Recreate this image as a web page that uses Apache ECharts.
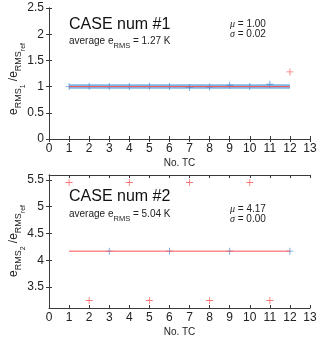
<!DOCTYPE html>
<html>
<head>
<meta charset="utf-8">
<script src="https://cdn.jsdelivr.net/npm/echarts@6/dist/echarts.min.js"></script>
<style>
  html, body { margin: 0; padding: 0; background: #fff; }
  #chart { width: 320px; height: 342px; }
</style>
</head>
<body>
<div id="chart"></div>
<script>
// data
var xTicks = [0, 1, 2, 3, 4, 5, 6, 7, 8, 9, 10, 11, 12, 13];
var yTicks1 = [0, 0.5, 1, 1.5, 2, 2.5];
var yTicks2 = [3.5, 4, 4.5, 5, 5.5];

// case 1
var tc1 = [1, 2, 3, 4, 5, 6, 7, 8, 9, 10, 11];
var ratio1 = [1.0, 1.005, 1.0, 1.0, 1.005, 1.0, 0.985, 0.99, 1.025, 1.0, 1.045];
var tcOut1 = [12];
var ratioOut1 = [1.28];

// case 2
var tc2 = [3, 6, 9, 12];
var ratio2 = [4.17, 4.17, 4.17, 4.17];
var tcOut2 = [1, 2, 4, 5, 7, 8, 10, 11];
var ratioOut2 = [5.45, 3.25, 5.45, 3.25, 5.45, 3.25, 5.45, 3.25];

// stats per case
var caseNames = ['CASE num #1', 'CASE num #2'];
var avgE = ['1.27', '5.04'];
var mu = [1.00, 4.17];
var sigma = [0.02, 0.00];
var lineRange = [1, 12];

var BLUE = '#3f8ad2';
var BAND = '#7fb6e4';
var RED = '#ff5252';
var AXC = '#3a3a3a';
var FONT = 'Liberation Sans, Arial, sans-serif';

var plus = 'path://M4.4,0h1.2v4.4h4.4v1.2h-4.4v4.4h-1.2v-4.4h-4.4v-1.2h4.4z';

function zip(xs, ys) {
    return xs.map(function (x, i) { return [x, ys[i]]; });
}

function xAx(grid, pos, labels) {
    return {
        type: 'value', gridIndex: grid, position: pos,
        min: 0, max: 13,
        axisLine: { show: true, lineStyle: { color: AXC, width: 1 } },
        axisTick: { show: true, inside: true, length: 3, customValues: xTicks, lineStyle: { color: AXC } },
        axisLabel: { show: labels, customValues: xTicks, fontFamily: FONT, fontSize: 12, color: '#222', margin: 4 },
        splitLine: { show: false },
        name: labels ? 'No. TC' : '',
        nameLocation: 'middle', nameGap: 19,
        nameTextStyle: { fontFamily: FONT, fontSize: 10, color: '#222' }
    };
}

function yAx(grid, pos, labels, min, max, ticks) {
    return {
        type: 'value', gridIndex: grid, position: pos,
        min: min, max: max,
        axisLine: { show: true, lineStyle: { color: AXC, width: 1 } },
        axisTick: { show: true, inside: true, length: 3, customValues: ticks, lineStyle: { color: AXC } },
        axisLabel: { show: labels, customValues: ticks, fontFamily: FONT, fontSize: 12, color: '#222', margin: 5 },
        splitLine: { show: false }
    };
}

function meanLine(i, xi, yi) {
    var m = mu[i];
    return [
        { type: 'line', xAxisIndex: xi, yAxisIndex: yi, symbol: 'none', silent: true,
          data: [[lineRange[0], m], [lineRange[1], m]],
          lineStyle: { color: BAND, width: sigma[i] > 0 ? 4.5 : 0, opacity: sigma[i] > 0 ? 1 : 0 }, z: 1 },
        { type: 'line', xAxisIndex: xi, yAxisIndex: yi, symbol: 'none', silent: true,
          data: [[lineRange[0], m], [lineRange[1], m]],
          lineStyle: { color: RED, width: 1 }, z: 4 }
    ];
}

function pts(xi, yi, data, color) {
    return { type: 'scatter', xAxisIndex: xi, yAxisIndex: yi, symbol: plus, symbolSize: 7,
             itemStyle: { color: color }, data: data, z: 3 };
}

function yName(i, x, y) {
    return {
        type: 'text', x: x, y: y, rotation: Math.PI / 2,
        style: {
            text: '{m|e}{s|RMS}{t|' + (i + 1) + '}{m| /e}{s|RMS}{t|ref}',
            align: 'center', verticalAlign: 'middle',
            rich: {
                m: { fontFamily: FONT, fontSize: 12, fill: '#222', verticalAlign: 'bottom', padding: [0, 0, 7, 0] },
                s: { fontFamily: FONT, fontSize: 9, fill: '#222', verticalAlign: 'bottom', padding: [0, 0, 3, 0] },
                t: { fontFamily: FONT, fontSize: 7, fill: '#222', verticalAlign: 'bottom' }
            }
        }
    };
}

function notes(i, caseY, avgY, muY) {
    return [
        { type: 'text', x: 69, y: caseY,
          style: { text: caseNames[i], fontFamily: FONT, fontSize: 16, fill: '#111', verticalAlign: 'middle' } },
        { type: 'text', x: 69, y: avgY,
          style: {
              text: '{a|average e}{s|RMS}{a| = ' + avgE[i] + ' K}',
              verticalAlign: 'middle',
              rich: {
                  a: { fontFamily: FONT, fontSize: 10, fill: '#222', verticalAlign: 'bottom', padding: [0, 0, 4, 0] },
                  s: { fontFamily: FONT, fontSize: 7.5, fill: '#222', verticalAlign: 'bottom' }
              }
          } },
        { type: 'text', x: 230, y: muY,
          style: {
              text: '{g|\u03bc} = ' + mu[i].toFixed(2),
              fontFamily: FONT, fontSize: 10, fill: '#222', verticalAlign: 'middle',
              rich: { g: { fontFamily: 'Liberation Serif, serif', fontStyle: 'italic', fontSize: 10, fill: '#222' } }
          } },
        { type: 'text', x: 230, y: muY + 10,
          style: {
              text: '{g|\u03c3} = ' + sigma[i].toFixed(2),
              fontFamily: FONT, fontSize: 10, fill: '#222', verticalAlign: 'middle',
              rich: { g: { fontFamily: 'Liberation Serif, serif', fontStyle: 'italic', fontSize: 10, fill: '#222' } }
          } }
    ];
}

var chart = echarts.init(document.getElementById('chart'), null, { renderer: 'canvas' });

var option = {
    animation: false,
    backgroundColor: '#fff',
    grid: [
        { left: 49, top: 8, width: 261, height: 131 },
        { left: 49, top: 175, width: 261, height: 133 }
    ],
    xAxis: [
        xAx(0, 'bottom', true), xAx(0, 'top', false),
        xAx(1, 'bottom', true), xAx(1, 'top', false)
    ],
    yAxis: [
        yAx(0, 'left', true, 0, 2.5, yTicks1), yAx(0, 'right', false, 0, 2.5, yTicks1),
        yAx(1, 'left', true, 3.11, 5.59, yTicks2), yAx(1, 'right', false, 3.11, 5.59, yTicks2)
    ],
    series: [].concat(
        meanLine(0, 0, 0),
        [pts(0, 0, zip(tc1, ratio1), BLUE), pts(0, 0, zip(tcOut1, ratioOut1), RED)],
        meanLine(1, 2, 2),
        [pts(2, 2, zip(tc2, ratio2), BLUE), pts(2, 2, zip(tcOut2, ratioOut2), RED)]
    ),
    graphic: [].concat(
        [yName(0, 17, 79), yName(1, 17, 241)],
        notes(0, 25, 43, 24.5),
        notes(1, 197, 216, 209.5)
    )
};

chart.setOption(option);
</script>
</body>
</html>
